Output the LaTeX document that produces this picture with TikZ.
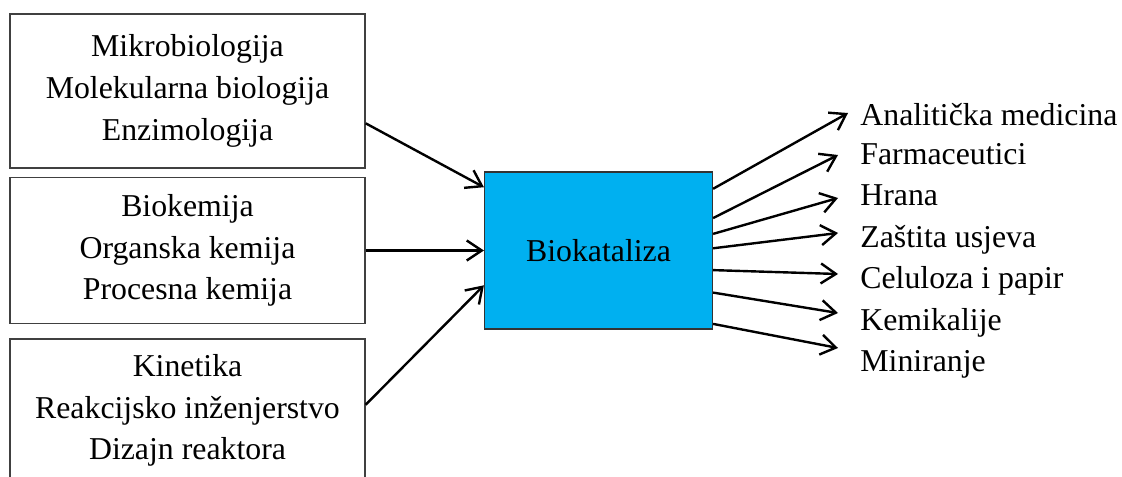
\documentclass[tikz,border=0pt]{standalone}
\usepackage{fontspec}
\setmainfont{Liberation Serif}
\usetikzlibrary{arrows.meta,calc}
\definecolor{biocyan}{HTML}{00B0F0}
\begin{document}
\begin{tikzpicture}[x=0.5pt,y=-0.5pt,
  every node/.style={font=\fontsize{15.9}{20.8}\selectfont, inner sep=0pt},
  srcbox/.style={draw=black!75, line width=0.7pt, rectangle, align=center, minimum width=177.5pt},
  centerbox/.style={draw=black!80, line width=0.6pt, fill=biocyan, rectangle, minimum width=114pt, minimum height=78.5pt},
  lbl/.style={anchor=base west},
  conn/.style={line width=1.2pt, -{Straight Barb[length=7.5pt,width=10pt,line width=1.2pt]}}
]
\useasboundingbox (0,0) rectangle (1122,476);
\clip (0,0) rectangle (1122,476);

\node[srcbox, minimum height=77pt] (b1) at (187.5,91) {Mikrobiologija\\Molekularna biologija\\Enzimologija};
\node[srcbox, minimum height=73pt] (b2) at (187.5,250.5) {Biokemija\\Organska kemija\\Procesna kemija};
\node[srcbox, minimum height=71.5pt] (b3) at (187.5,410.5) {Kinetika\\Reakcijsko inženjerstvo\\Dizajn reaktora};

\node[centerbox] (bio) at (598.5,250.5) {Biokataliza};

\draw[conn] ($(b1.north east)!0.708!(b1.south east)$) -- ($(bio.north west)!0.10!(bio.south west)$);
\draw[conn] (b2.east) -- (bio.west);
\draw[conn] ($(b3.north east)!0.46!(b3.south east)$) -- ($(bio.north west)!0.72!(bio.south west)$);

\node[lbl] (o1) at (860,126) {Analitička medicina};
\node[lbl] (o2) at (860,164) {Farmaceutici};
\node[lbl] (o3) at (860,205.5) {Hrana};
\node[lbl] (o4) at (860,247) {Zaštita usjeva};
\node[lbl] (o5) at (860,288.5) {Celuloza i papir};
\node[lbl] (o6) at (860,330) {Kemikalije};
\node[lbl] (o7) at (860,371) {Miniranje};

\coordinate (t1) at (848,113);
\coordinate (t2) at (838,155);
\coordinate (t3) at (838,198);
\coordinate (t4) at (838,233);
\coordinate (t5) at (838,274);
\coordinate (t6) at (838,313);
\coordinate (t7) at (838,348);

\draw[conn] ($(bio.north east)!0.11!(bio.south east)$) -- (t1);
\draw[conn] ($(bio.north east)!0.295!(bio.south east)$) -- (t2);
\draw[conn] ($(bio.north east)!0.395!(bio.south east)$) -- (t3);
\draw[conn] ($(bio.north east)!0.486!(bio.south east)$) -- (t4);
\draw[conn] ($(bio.north east)!0.624!(bio.south east)$) -- (t5);
\draw[conn] ($(bio.north east)!0.766!(bio.south east)$) -- (t6);
\draw[conn] ($(bio.north east)!0.964!(bio.south east)$) -- (t7);
\end{tikzpicture}
\end{document}
